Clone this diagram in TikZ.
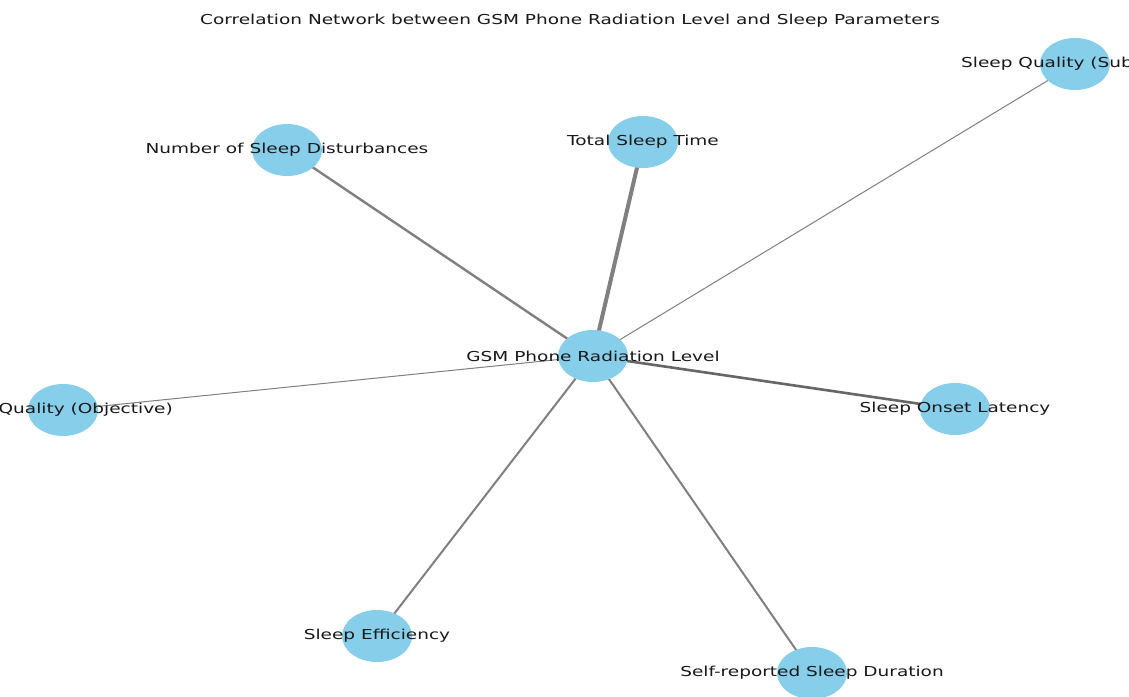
\documentclass[tikz,border=0pt]{standalone}
\usepackage{fontspec}
\setmainfont{DejaVu Sans}[FakeStretch=1.35]
\definecolor{skyblue}{HTML}{87CEEB}
\definecolor{edgegray}{HTML}{808080}
\usetikzlibrary{shapes.geometric}
\tikzset{
  vertex/.style={ellipse, fill=skyblue, minimum width=70pt, minimum height=52pt, inner sep=0pt},
  lbl/.style={font=\fontsize{13.7}{16}\selectfont, text=black!90, inner sep=0pt},
  link/.style={draw=edgegray, line cap=round},
}
\begin{document}
\begin{tikzpicture}[x=1pt, y=-1pt]
  \useasboundingbox (0,0) rectangle (1129,696);
  \clip (0,0) rectangle (1129,696);
  \fill[white] (0,0) rectangle (1129,696);

  % node positions
  \coordinate (pG)  at (593,356);
  \coordinate (pT)  at (643,142);
  \coordinate (pSQ) at (1075,64);
  \coordinate (pN)  at (287,150);
  \coordinate (pOQ) at (63,410);
  \coordinate (pL)  at (955,409);
  \coordinate (pE)  at (377,636);
  \coordinate (pD)  at (812,673);

  % edges, width proportional to correlation strength
  \draw[link, line width=4pt]   (pG) -- (pT);
  \draw[link, line width=2.4pt] (pG) -- (pN);
  \draw[link, line width=1pt]   (pG) -- (pSQ);
  \draw[link, line width=1pt]   (pG) -- (pOQ);
  \draw[link, line width=2.6pt, draw=black!60] (pG) -- (pL);
  \draw[link, line width=2pt]   (pG) -- (pE);
  \draw[link, line width=2pt]   (pG) -- (pD);

  % vertices
  \node[vertex] (G)  at (pG)  {};
  \node[vertex] (T)  at (pT)  {};
  \node[vertex] (SQ) at (pSQ) {};
  \node[vertex] (N)  at (pN)  {};
  \node[vertex] (OQ) at (pOQ) {};
  \node[vertex] (L)  at (pL)  {};
  \node[vertex] (E)  at (pE)  {};
  \node[vertex] (D)  at (pD)  {};

  % labels
  \node[lbl] (tG)  at (pG)  {GSM Phone Radiation Level};
  \node[lbl] (tT)  at (pT)  {Total Sleep Time};
  \node[lbl, anchor=west] (tSQ) at (961,64) {Sleep Quality (Subjective)};
  \node[lbl] (tN)  at (pN)  {Number of Sleep Disturbances};
  \node[lbl, anchor=east] (tOQ) at (173,410) {Sleep Quality (Objective)};
  \node[lbl] (tL)  at (pL)  {Sleep Onset Latency};
  \node[lbl] (tE)  at (pE)  {Sleep Efficiency};
  \node[lbl] (tD)  at (pD)  {Self-reported Sleep Duration};

  \node[lbl] (title) at (570,21) {Correlation Network between GSM Phone Radiation Level and Sleep Parameters};
\end{tikzpicture}
\end{document}
